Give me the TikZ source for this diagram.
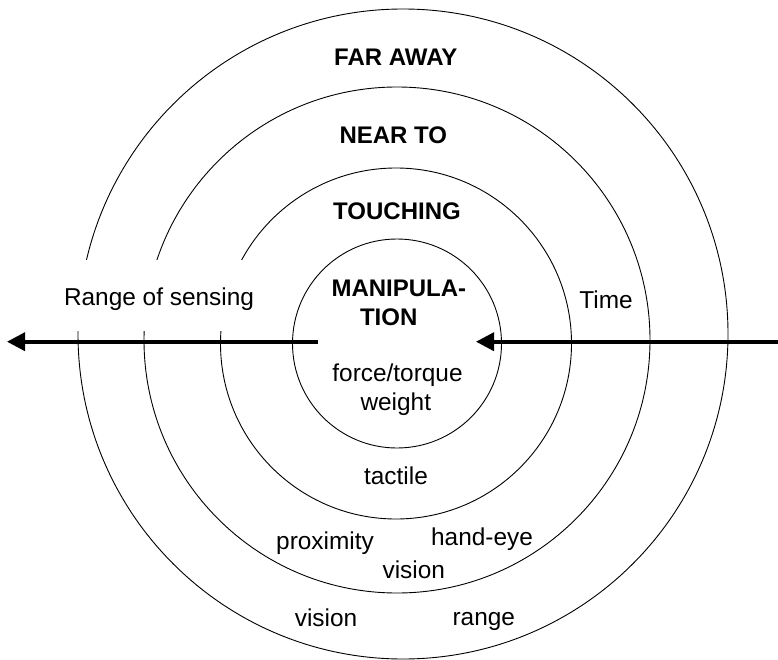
\documentclass[tikz,border=0pt]{standalone}
\usepackage{fontspec}
\setmainfont{Liberation Sans}
\usetikzlibrary{arrows.meta}
\begin{document}
\begin{tikzpicture}[x=1pt,y=-1pt,
  ring/.style={circle,draw,line width=0.9pt,inner sep=0pt},
  txt/.style={font=\fontsize{24.4}{29}\selectfont,anchor=base,inner sep=0pt},
  btxt/.style={font=\fontsize{24}{29}\selectfont\bfseries,anchor=base,inner sep=0pt},
  bigarrow/.style={line width=3.6pt,-{Triangle[length=18pt,width=18pt]}}]
\useasboundingbox (0,0) rectangle (778,660);
% rings
\node[ring,minimum size=650pt] (far) at (403,334) {};
\node[ring,minimum size=506pt] (near) at (397,340) {};
\node[ring,minimum size=351pt] (touch) at (396,343.5) {};
\node[ring,minimum size=209pt] (manip) at (397,343.5) {};
% gap behind the label
\fill[white] (58,260) rectangle (258,330.7);
% zone titles
\node[btxt] (tfar) at (395.8,66) {FAR AWAY};
\node[btxt] (tnear) at (393.3,143.3) {NEAR TO};
\node[btxt] (ttouch) at (397,219) {TOUCHING};
\node[btxt] (tman1) at (398.9,296.7) {MANIPULA-};
\node[btxt] (tman2) at (388.7,325.7) {TION};
% sensors
\node[txt] (force) at (397.5,381.7) {force/torque};
\node[txt] (weight) at (395.8,410) {weight};
\node[txt] (tactile) at (396,484) {tactile};
\node[txt] (prox) at (325,549.3) {proximity};
\node[txt] (handeye) at (482,545.7) {hand-eye};
\node[txt] (vision1) at (413.8,578.3) {vision};
\node[txt] (vision2) at (326,626) {vision};
\node[txt] (range) at (483.8,625) {range};
% axis labels
\node[txt] (rangesens) at (159,305.7) {Range of sensing};
\node[txt] (time) at (606,308.3) {Time};
% arrows
\coordinate (lstart) at (318,341.7);
\coordinate (ltip) at (7,341.7);
\coordinate (rstart) at (778,341.7);
\coordinate (rtip) at (476,341.7);
\draw[bigarrow] (lstart) -- (ltip);
\draw[bigarrow] (rstart) -- (rtip);
\end{tikzpicture}
\end{document}
